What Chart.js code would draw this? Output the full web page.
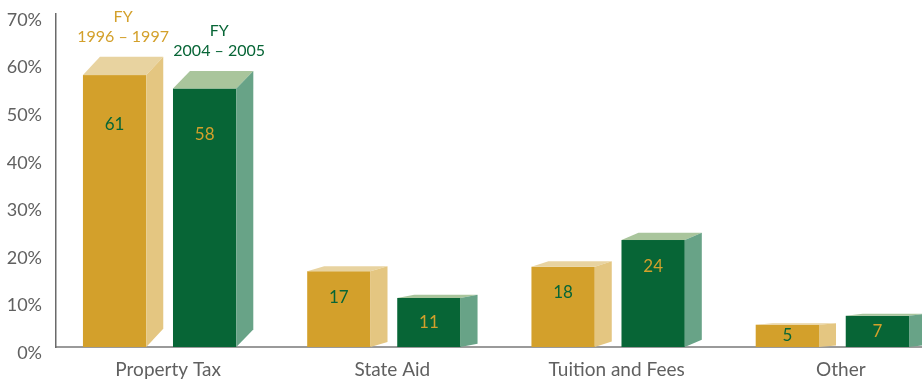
<!DOCTYPE html>
<html>
<head>
<meta charset="utf-8">
<script src="https://cdn.jsdelivr.net/npm/chart.js@4.4.0/dist/chart.umd.min.js"></script>
<style>
  html, body { margin: 0; padding: 0; background: #fff; overflow: hidden; }
  #wrap { width: 953px; height: 386px; }
</style>
</head>
<body>
<div id="wrap"><canvas id="myChart"></canvas></div>
<script>
const categories = ['Property Tax', 'State Aid', 'Tuition and Fees', 'Other'];
const fy1997 = [61, 17, 18, 5];
const fy2005 = [58, 11, 24, 7];
const seriesNames = [['FY', '1996 – 1997'], ['FY', '2004 – 2005']];
const yTicks = [0, 10, 20, 30, 40, 50, 60, 70];

// front / top / side shades per series
const shades = [
  { front: '#D3A02B', top: '#E8D3A0', side: '#E4C681', text: '#D3A02B' },
  { front: '#076536', top: '#A9C59C', side: '#68A387', text: '#076536' }
];
const DEPTH_X = 17;
const FONT = 'Lato, "Open Sans", sans-serif';

const boxes3d = {
  id: 'boxes3d',
  afterDatasetsDraw(chart) {
    const c = chart.ctx;
    chart.data.datasets.forEach((ds, di) => {
      const meta = chart.getDatasetMeta(di);
      const sh = shades[di];
      const other = shades[1 - di];
      meta.data.forEach((bar, i) => {
        const { x, y, base, width } = bar.getProps(['x', 'y', 'base', 'width'], true);
        const h = base - y;
        const dy = h * 0.063;
        const l = x - width / 2;
        const r = x + width / 2 - DEPTH_X;
        const ft = y + dy; // front top

        c.save();
        // front
        c.fillStyle = sh.front;
        c.fillRect(l, ft, r - l, base - ft);
        // top
        c.fillStyle = sh.top;
        c.beginPath();
        c.moveTo(l, ft); c.lineTo(r, ft);
        c.lineTo(r + DEPTH_X, y); c.lineTo(l + DEPTH_X, y);
        c.closePath(); c.fill();
        // side
        c.fillStyle = sh.side;
        c.beginPath();
        c.moveTo(r, ft); c.lineTo(r + DEPTH_X, y);
        c.lineTo(r + DEPTH_X, base - dy); c.lineTo(r, base);
        c.closePath(); c.fill();

        // value label
        const fh = base - ft;
        const off = Math.max(Math.min(fh / 2, 26), fh * 0.18);
        c.fillStyle = other.text;
        c.font = '17px ' + FONT;
        c.textAlign = 'center';
        c.textBaseline = 'middle';
        c.fillText(String(ds.data[i]), (l + r) / 2, ft + off);

        // series name above the first group
        if (i === 0) {
          c.fillStyle = sh.text;
          c.font = '16px ' + FONT;
          const nm = seriesNames[di];
          c.fillText(nm[0], x + di * 6, y - 40);
          c.fillText(nm[1], x + di * 6, y - 20);
        }
        c.restore();
      });
    });
  }
};

new Chart(document.getElementById('myChart'), {
  type: 'bar',
  data: {
    labels: categories,
    datasets: [
      { label: seriesNames[0].join(' '), data: fy1997, backgroundColor: 'rgba(0,0,0,0)' },
      { label: seriesNames[1].join(' '), data: fy2005, backgroundColor: 'rgba(0,0,0,0)' }
    ]
  },
  options: {
    responsive: true,
    maintainAspectRatio: false,
    animation: false,
    categoryPercentage: 0.803,
    barPercentage: 0.892,
    layout: { padding: { top: 14, left: 0, right: 0, bottom: 0 } },
    scales: {
      x: {
        grid: { display: false },
        border: { color: '#9a9a9a', width: 2 },
        ticks: { color: '#606060', font: { family: FONT, size: 19 }, padding: 3 },
        afterFit(scale) { scale.height = 39; scale.paddingLeft = 0; scale.paddingRight = 0; }
      },
      y: {
        min: 0,
        max: 70,
        afterBuildTicks(scale) { scale.ticks = yTicks.map(v => ({ value: v })); },
        grid: { display: false, drawTicks: false },
        border: { color: '#6a6a6a', width: 1.5 },
        ticks: {
          color: '#606060',
          font: { family: FONT, size: 18 },
          padding: 14,
          labelOffset: 6,
          callback: v => v + '%'
        },
        afterFit(scale) { scale.width = 56; scale.paddingTop = 0; scale.paddingBottom = 0; }
      }
    },
    plugins: {
      legend: { display: false },
      tooltip: { enabled: false }
    }
  },
  plugins: [boxes3d]
});
</script>
</body>
</html>
